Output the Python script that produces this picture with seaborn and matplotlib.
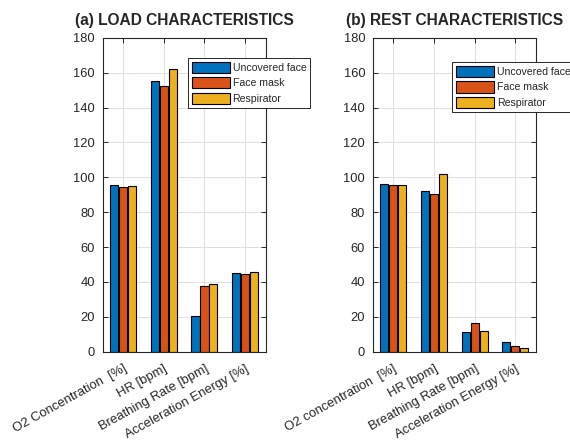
import matplotlib
matplotlib.use("Agg")
import matplotlib.pyplot as plt
import seaborn as sns
import pandas as pd

load_categories = ["O2 Concentration  [%]", "HR [bpm]", "Breathing Rate [bpm]", "Acceleration Energy [%]"]
rest_categories = ["O2 concentration  [%]", "HR [bpm]", "Breathing Rate [bpm]", "Acceleration Energy [%]"]
groups = ["Uncovered face", "Face mask", "Respirator"]

load_uncovered = [95.6, 155.3, 20.5, 45.1]
load_facemask = [94.4, 152.6, 37.7, 44.4]
load_respirator = [94.8, 162.0, 39.0, 45.9]

rest_uncovered = [96.0, 92.3, 11.5, 5.6]
rest_facemask = [95.6, 90.6, 16.3, 3.5]
rest_respirator = [95.6, 101.7, 12.0, 2.1]

titles = ["(a) LOAD CHARACTERISTICS", "(b) REST CHARACTERISTICS"]
yticks = list(range(0, 181, 20))
colors = ["#0072BD", "#D95319", "#EDB120"]


def long_df(cats, a, b, c):
    rows = []
    for series, vals in zip(groups, [a, b, c]):
        for cat, v in zip(cats, vals):
            rows.append({"cat": cat, "group": series, "value": v})
    return pd.DataFrame(rows)


sns.set_style("ticks")
plt.rcParams["font.family"] = ["Liberation Sans", "DejaVu Sans"]
plt.rcParams["axes.edgecolor"] = "#262626"
plt.rcParams["axes.linewidth"] = 0.8
plt.rcParams["xtick.color"] = "#262626"
plt.rcParams["ytick.color"] = "#262626"

fig = plt.figure(figsize=(5.7, 4.45), dpi=100)
ax_pos = [[0.180, 0.2097, 0.286, 0.7054], [0.654, 0.2097, 0.286, 0.7054]]
legend_anchor = [(0.525, 0.935), (0.488, 0.922)]

data = [
    (load_categories, load_uncovered, load_facemask, load_respirator),
    (rest_categories, rest_uncovered, rest_facemask, rest_respirator),
]

for i in range(2):
    ax = fig.add_axes(ax_pos[i])
    cats, a, b, c = data[i]
    df = long_df(cats, a, b, c)
    sns.barplot(data=df, x="cat", y="value", hue="group", order=cats,
                hue_order=groups, palette=colors, width=0.66, gap=0.1,
                edgecolor="black", linewidth=0.8, saturation=1, ax=ax)
    ax.set_ylim(0, 180)
    ax.set_xlim(-0.5, 3.5)
    ax.set_yticks(yticks)
    ax.set_xlabel("")
    ax.set_ylabel("")
    ax.set_axisbelow(True)
    ax.grid(True, color="#e0e0e0", linewidth=0.7)
    for s in ax.spines.values():
        s.set_visible(True)
    ax.tick_params(direction="in", length=3.5, width=0.7, top=True, right=True,
                   labelsize=9.3, labelcolor="#262626", pad=5.5)
    ax.tick_params(axis="x", pad=8, labelsize=9.4)
    ax.set_xticks(range(4))
    ax.set_xticklabels(cats, rotation=29, ha="right", rotation_mode="anchor")
    ax.set_title(titles[i], fontsize=11.2, fontweight="bold", pad=9)
    handles, labels = ax.get_legend_handles_labels()
    ax.legend(handles, labels, loc="upper left", bbox_to_anchor=legend_anchor[i],
              borderaxespad=0, fontsize=7.6, frameon=True, fancybox=False,
              framealpha=1, edgecolor="#262626", handlelength=3.6,
              handleheight=1.25, labelspacing=0.4, handletextpad=0.25,
              borderpad=0.35)
    ax.get_legend().get_frame().set_linewidth(0.7)

fig.savefig("out.png", dpi=100)
